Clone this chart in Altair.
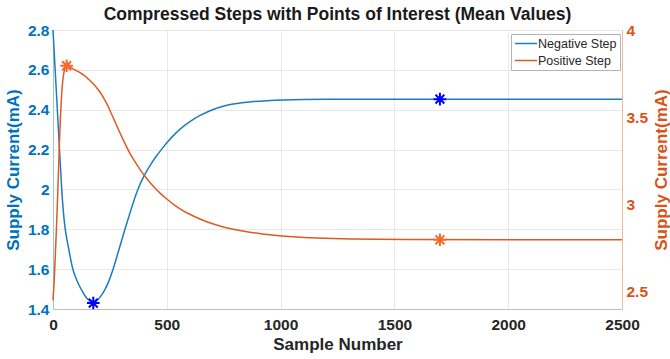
import altair as alt
import pandas as pd

# ---- data ----
series_names = ["Negative Step", "Positive Step"]

neg_x = [0, 10, 22, 30, 38, 45, 53, 65, 75, 86, 100, 114, 126, 140, 155, 167, 177, 188, 200, 214,
         228, 246, 265, 290, 316, 343, 371, 400, 426, 452, 483, 500, 536, 573, 610, 646, 683, 719,
         755, 792, 830, 866, 940, 1012, 1100, 1200, 1305, 1500, 2000, 2500]
neg_y = [2.80, 2.59, 2.34, 2.17, 2.00, 1.89, 1.80, 1.725, 1.665, 1.60, 1.555, 1.52, 1.495, 1.465,
         1.445, 1.435, 1.43, 1.435, 1.45, 1.47, 1.495, 1.54, 1.60, 1.70, 1.80, 1.90, 2.00, 2.07,
         2.12, 2.165, 2.21, 2.235, 2.28, 2.318, 2.348, 2.372, 2.392, 2.408, 2.42, 2.429, 2.435,
         2.44, 2.446, 2.449, 2.451, 2.452, 2.453, 2.453, 2.453, 2.453]

pos_x = [0, 5, 10, 15, 20, 28, 38, 48, 57, 66, 75, 90, 105, 119, 130, 140, 152, 163, 178, 192, 206,
         221, 236, 250, 272, 294, 316, 338, 360, 382, 404, 426, 448, 470, 500, 529, 560, 600, 646,
         690, 740, 791, 850, 920, 983, 1050, 1150, 1300, 1500, 2000, 2500]
pos_y = [2.45, 2.55, 2.70, 2.86, 3.02, 3.36, 3.66, 3.77, 3.795, 3.795, 3.787, 3.775, 3.766, 3.755,
         3.746, 3.738, 3.722, 3.71, 3.69, 3.67, 3.645, 3.615, 3.58, 3.54, 3.475, 3.41, 3.35, 3.29,
         3.245, 3.20, 3.16, 3.125, 3.093, 3.064, 3.03, 3.0, 2.972, 2.943, 2.915, 2.893, 2.873,
         2.857, 2.843, 2.83, 2.821, 2.814, 2.807, 2.801, 2.798, 2.797, 2.797]

poi_neg_x = [177, 1700]
poi_neg_y = [1.43, 2.453]
poi_pos_x = [60, 1700]
poi_pos_y = [3.795, 2.797]

x_ticks = [0, 500, 1000, 1500, 2000, 2500]
left_ticks = [1.4, 1.6, 1.8, 2.0, 2.2, 2.4, 2.6, 2.8]
right_ticks = [2.5, 3.0, 3.5, 4.0]

BLUE = "#0072BD"
ORANGE = "#D95319"
LINE_BLUE = "#1a7cc4"
LINE_ORANGE = "#DF5A20"
STAR_BLUE = "#0000FF"
STAR_ORANGE = "#F5682C"
FONT = "Liberation Sans"
STAR = "M-1,0L1,0M0,-1L0,1M-0.7,-0.7L0.7,0.7M-0.7,0.7L0.7,-0.7"

neg_df = pd.DataFrame({"sample": neg_x, "current": neg_y, "series": series_names[0]})
pos_df = pd.DataFrame({"sample": pos_x, "current": pos_y, "series": series_names[1]})
poi_neg_df = pd.DataFrame({"sample": poi_neg_x, "current": poi_neg_y})
poi_pos_df = pd.DataFrame({"sample": poi_pos_x, "current": poi_pos_y})

x_enc = alt.X(
    "sample:Q",
    scale=alt.Scale(domain=[0, 2500], nice=False),
    axis=alt.Axis(values=x_ticks, format="d", title="Sample Number", grid=True,
                  labelColor="#262626", titleColor="#262626", domainColor="#bfbfbf",
                  labelPadding=8, titlePadding=4, labelFlush=False),
)
y_left = alt.Y(
    "current:Q",
    scale=alt.Scale(domain=[1.4, 2.8], nice=False, zero=False),
    axis=alt.Axis(values=left_ticks, format="~g", title="Supply Current(mA)", grid=True,
                  labelColor=BLUE, titleColor=BLUE, domainColor="#9cc4e4", labelPadding=4,
                  titlePadding=5, labelFlush=False),
)
y_right = alt.Y(
    "current:Q",
    scale=alt.Scale(domain=[2.4, 4.0], nice=False, zero=False),
    axis=alt.Axis(values=right_ticks, format="~g", title="Supply Current(mA)", orient="right",
                  grid=False, labelColor=ORANGE, titleColor=ORANGE, domainColor="#f2b79c",
                  labelPadding=4, titlePadding=6, titleAngle=270, titleBaseline="top",
                  labelFlush=False),
)

color = alt.Color(
    "series:N",
    scale=alt.Scale(domain=series_names, range=[LINE_BLUE, LINE_ORANGE]),
    legend=alt.Legend(title=None, orient="none", legendX=458, legendY=4),
)

left_line = alt.Chart(neg_df).mark_line(strokeWidth=1.5, interpolate="basis").encode(
    x=x_enc, y=y_left, color=color)
left_pts = alt.Chart(poi_neg_df).mark_point(shape=STAR, size=160, filled=False, strokeWidth=2,
                                            color=STAR_BLUE, opacity=1).encode(x=x_enc, y=y_left)
right_line = alt.Chart(pos_df).mark_line(strokeWidth=1.5, interpolate="basis").encode(
    x=x_enc, y=y_right, color=color)
right_pts = alt.Chart(poi_pos_df).mark_point(shape=STAR, size=160, filled=False, strokeWidth=2,
                                             color=STAR_ORANGE, opacity=1).encode(x=x_enc, y=y_right)

left = alt.layer(left_line, left_pts)
right = alt.layer(right_line, right_pts)

chart = (
    alt.layer(left, right)
    .resolve_scale(y="independent")
    .properties(
        width=569,
        height=279,
        autosize=alt.AutoSizeParams(type="none"),
        padding={"left": 53, "top": 30, "right": 48, "bottom": 50},
        title=alt.TitleParams(
            "Compressed Steps with Points of Interest (Mean Values)",
            fontSize=17.5, font=FONT, fontWeight="bold", color="#1a1a1a", anchor="middle",
            offset=0,
        ),
    )
    .configure_view(stroke="#c4c4c4", strokeWidth=1)
    .configure_axis(
        gridColor="#e8e8e8", gridWidth=1, domainWidth=1, ticks=False,
        labelFont=FONT, labelFontWeight="bold", labelFontSize=15.5,
        titleFont=FONT, titleFontWeight="bold", titleFontSize=17,
    )
    .configure_legend(
        strokeColor="#b3b3b3", fillColor="white", padding=3, cornerRadius=0,
        symbolType="M-1,0L3,0", symbolSize=121, symbolStrokeWidth=1.5,
        labelFont=FONT, labelFontSize=12.5, labelColor="#262626", labelOffset=11, rowPadding=4,
    )
)

chart.save("out.html", embed_options={"renderer": "svg", "actions": False})
